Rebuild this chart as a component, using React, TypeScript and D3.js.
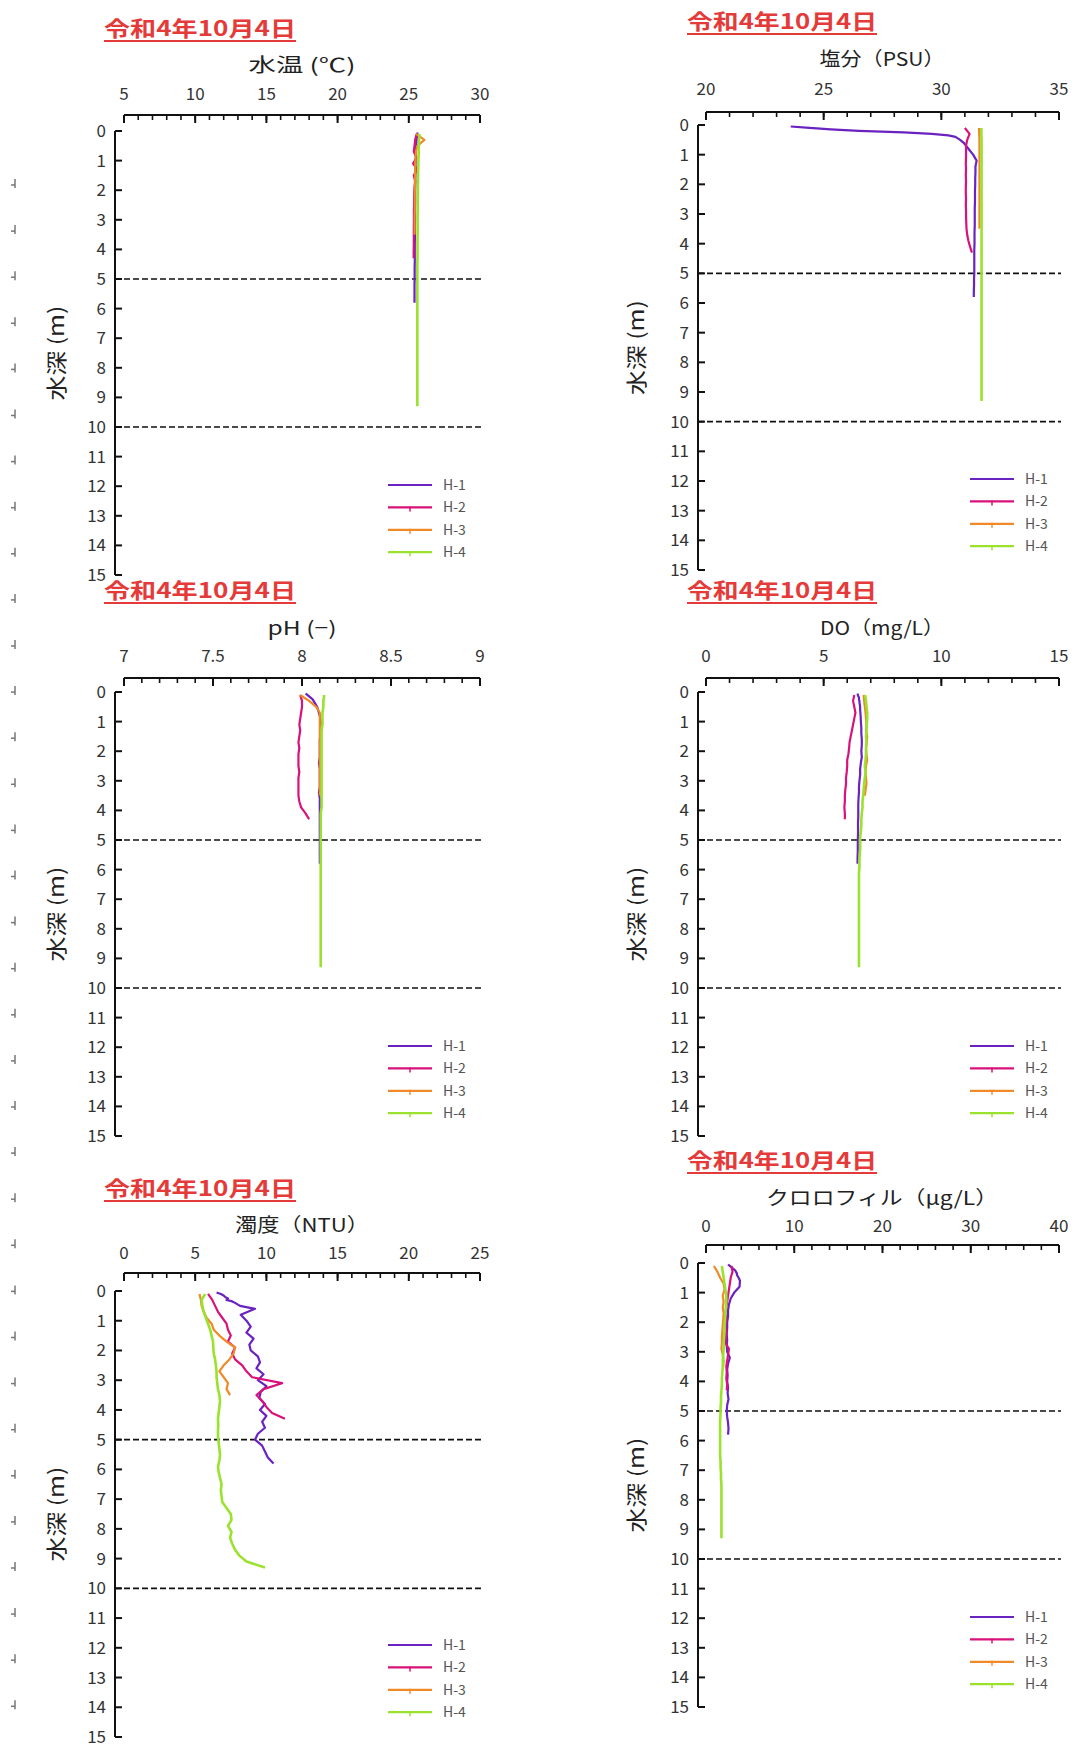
import React from "react";
import * as d3 from "d3";

const STATIONS = ["H-1", "H-2", "H-3", "H-4"];
const COLORS = ["#6a22c0", "#d8127a", "#f08a28", "#9ae22e"];
const DATE_LABEL = "令和4年10月4日";
const DEPTH_TITLE = "水深 (m)";
const DEPTH_TICKS = [0, 1, 2, 3, 4, 5, 6, 7, 8, 9, 10, 11, 12, 13, 14, 15];
const GUIDE_DEPTHS = [5, 10];

// depth grids (m) of each station's profile
const DEPTH_H1 = [0.05, 0.1, 0.15, 0.2, 0.25, 0.3, 0.35, 0.4, 0.5, 0.6, 0.8, 1.0, 1.2, 1.4, 1.6, 1.8, 2.0, 2.2, 2.4, 2.6, 2.8, 3.0, 3.2, 3.4, 3.6, 3.8, 4.0, 4.2, 4.4, 4.6, 4.8, 5.0, 5.2, 5.4, 5.6, 5.8];
const DEPTH_H2 = [0.1, 0.3, 0.5, 0.7, 0.9, 1.1, 1.3, 1.5, 1.7, 1.9, 2.1, 2.3, 2.5, 2.7, 2.9, 3.1, 3.3, 3.5, 3.7, 3.9, 4.1, 4.3];
const DEPTH_H3 = [0.1, 0.3, 0.5, 0.7, 0.9, 1.1, 1.3, 1.5, 1.7, 1.9, 2.1, 2.3, 2.5, 2.7, 2.9, 3.1, 3.3, 3.5];
const DEPTH_H4 = [0.1, 0.3, 0.5, 0.7, 0.9, 1.1, 1.3, 1.5, 1.7, 1.9, 2.1, 2.3, 2.5, 2.7, 2.9, 3.1, 3.3, 3.5, 3.7, 3.9, 4.1, 4.3, 4.5, 4.7, 4.9, 5.1, 5.3, 5.5, 5.7, 5.9, 6.1, 6.3, 6.5, 6.7, 6.9, 7.1, 7.3, 7.5, 7.7, 7.9, 8.1, 8.3, 8.5, 8.7, 8.9, 9.1, 9.3];

// 水温 (℃)
const TEMP_H1 = [25.6, 25.6, 25.58, 25.57, 25.55, 25.55, 25.54, 25.53, 25.52, 25.5, 25.5, 25.48, 25.47, 25.47, 25.46, 25.46, 25.45, 25.45, 25.45, 25.44, 25.44, 25.44, 25.43, 25.43, 25.43, 25.42, 25.42, 25.42, 25.42, 25.41, 25.41, 25.41, 25.4, 25.4, 25.4, 25.4];
const TEMP_H2 = [25.55, 25.45, 25.4, 25.35, 25.55, 25.3, 25.6, 25.35, 25.45, 25.4, 25.38, 25.37, 25.37, 25.36, 25.36, 25.36, 25.35, 25.35, 25.35, 25.35, 25.34, 25.34];
const TEMP_H3 = [25.5, 26.1, 25.6, 25.5, 25.48, 25.45, 25.45, 25.44, 25.43, 25.43, 25.42, 25.42, 25.42, 25.42, 25.41, 25.41, 25.41, 25.4];
const TEMP_H4 = [25.75, 25.72, 25.7, 25.7, 25.68, 25.67, 25.66, 25.65, 25.65, 25.64, 25.64, 25.63, 25.63, 25.63, 25.62, 25.62, 25.62, 25.62, 25.61, 25.61, 25.61, 25.61, 25.6, 25.6, 25.6, 25.6, 25.6, 25.6, 25.6, 25.6, 25.6, 25.6, 25.6, 25.6, 25.6, 25.6, 25.6, 25.6, 25.6, 25.6, 25.6, 25.6, 25.6, 25.6, 25.6, 25.6, 25.6];

// 塩分 (PSU)
const SAL_H1 = [23.6, 24.4, 25.3, 26.5, 28.4, 29.6, 30.3, 30.6, 30.8, 30.95, 31.15, 31.35, 31.5, 31.45, 31.45, 31.44, 31.44, 31.43, 31.43, 31.43, 31.42, 31.42, 31.42, 31.42, 31.41, 31.41, 31.41, 31.4, 31.4, 31.4, 31.4, 31.4, 31.39, 31.39, 31.38, 31.38];
const SAL_H2 = [31.0, 31.2, 31.1, 31.05, 31.05, 31.05, 31.04, 31.05, 31.04, 31.05, 31.04, 31.04, 31.05, 31.04, 31.05, 31.05, 31.06, 31.07, 31.1, 31.15, 31.22, 31.3];
const SAL_H3 = [31.6, 31.61, 31.62, 31.62, 31.62, 31.62, 31.62, 31.62, 31.62, 31.62, 31.62, 31.62, 31.62, 31.62, 31.62, 31.62, 31.62, 31.62];
const SAL_H4 = [31.7, 31.7, 31.71, 31.71, 31.71, 31.71, 31.71, 31.71, 31.71, 31.71, 31.71, 31.71, 31.71, 31.71, 31.71, 31.71, 31.71, 31.71, 31.71, 31.71, 31.71, 31.71, 31.71, 31.71, 31.71, 31.71, 31.71, 31.71, 31.71, 31.71, 31.71, 31.71, 31.71, 31.71, 31.71, 31.71, 31.71, 31.71, 31.71, 31.71, 31.71, 31.71, 31.71, 31.71, 31.71, 31.71, 31.71];

// pH (-)
const PH_H1 = [8.02, 8.03, 8.04, 8.05, 8.06, 8.065, 8.07, 8.075, 8.085, 8.09, 8.1, 8.105, 8.11, 8.105, 8.1, 8.1, 8.1, 8.1, 8.095, 8.1, 8.1, 8.1, 8.1, 8.095, 8.1, 8.1, 8.1, 8.1, 8.1, 8.1, 8.1, 8.1, 8.1, 8.1, 8.1, 8.1];
const PH_H2 = [7.99, 8.0, 8.0, 7.995, 7.99, 7.985, 7.99, 7.985, 7.98, 7.985, 7.98, 7.98, 7.98, 7.985, 7.98, 7.98, 7.98, 7.98, 7.985, 7.995, 8.02, 8.04];
const PH_H3 = [7.99, 8.04, 8.08, 8.1, 8.1, 8.1, 8.1, 8.1, 8.1, 8.1, 8.1, 8.1, 8.1, 8.1, 8.1, 8.1, 8.1, 8.1];
const PH_H4 = [8.125, 8.12, 8.12, 8.115, 8.115, 8.115, 8.11, 8.11, 8.11, 8.11, 8.11, 8.11, 8.11, 8.11, 8.11, 8.11, 8.11, 8.11, 8.11, 8.11, 8.105, 8.105, 8.105, 8.105, 8.105, 8.105, 8.105, 8.105, 8.105, 8.105, 8.105, 8.105, 8.105, 8.105, 8.105, 8.105, 8.105, 8.105, 8.105, 8.105, 8.105, 8.105, 8.105, 8.105, 8.105, 8.105, 8.105];

// DO (mg/L)
const DO_H1 = [6.45, 6.45, 6.48, 6.5, 6.5, 6.52, 6.52, 6.53, 6.55, 6.55, 6.57, 6.58, 6.6, 6.6, 6.62, 6.62, 6.6, 6.62, 6.58, 6.55, 6.55, 6.52, 6.5, 6.5, 6.48, 6.47, 6.47, 6.47, 6.46, 6.46, 6.46, 6.45, 6.45, 6.45, 6.44, 6.44];
const DO_H2 = [6.3, 6.25, 6.3, 6.35, 6.3, 6.25, 6.2, 6.15, 6.1, 6.08, 6.05, 6.0, 6.0, 5.98, 5.95, 5.95, 5.92, 5.9, 5.9, 5.88, 5.9, 5.9];
const DO_H3 = [6.7, 6.72, 6.75, 6.78, 6.8, 6.82, 6.8, 6.85, 6.83, 6.8, 6.82, 6.85, 6.8, 6.78, 6.8, 6.82, 6.78, 6.75];
const DO_H4 = [6.76, 6.8, 6.82, 6.85, 6.85, 6.83, 6.82, 6.8, 6.82, 6.8, 6.8, 6.78, 6.75, 6.78, 6.75, 6.72, 6.7, 6.68, 6.65, 6.65, 6.62, 6.6, 6.6, 6.58, 6.55, 6.55, 6.55, 6.53, 6.52, 6.52, 6.5, 6.5, 6.5, 6.5, 6.5, 6.5, 6.5, 6.5, 6.5, 6.5, 6.5, 6.5, 6.5, 6.5, 6.5, 6.5, 6.5];

// 濁度 (NTU)
const TURB_H1 = [6.5, 6.8, 7.0, 7.1, 7.3, 7.2, 7.6, 7.8, 8.15, 9.2, 8.2, 8.6, 8.9, 8.6, 9.1, 8.8, 8.9, 9.4, 9.55, 9.3, 9.8, 9.4, 10.0, 9.6, 9.5, 9.9, 9.55, 10.0, 9.7, 9.9, 9.4, 9.2, 9.7, 9.9, 10.1, 10.5];
const TURB_H2 = [5.9, 6.2, 6.4, 6.6, 6.9, 7.2, 7.3, 7.5, 7.3, 7.8, 7.6, 7.8, 8.3, 8.6, 9.0, 11.1, 9.8, 9.3, 9.7, 10.0, 10.4, 11.3];
const TURB_H3 = [5.3, 5.4, 5.45, 5.6, 5.8, 6.15, 6.3, 6.7, 7.2, 7.8, 7.7, 7.4, 7.0, 6.7, 7.0, 7.3, 7.2, 7.45];
const TURB_H4 = [5.7, 5.45, 5.5, 5.6, 5.75, 5.9, 6.05, 6.15, 6.25, 6.27, 6.3, 6.4, 6.45, 6.5, 6.5, 6.55, 6.6, 6.7, 6.74, 6.7, 6.65, 6.6, 6.62, 6.6, 6.6, 6.65, 6.7, 6.74, 6.7, 6.6, 6.65, 6.75, 6.85, 6.8, 6.85, 6.9, 7.2, 7.5, 7.55, 7.3, 7.55, 7.45, 7.6, 7.8, 8.1, 8.6, 9.9];

// クロロフィル (μg/L)
const CHL_H1 = [2.5, 2.7, 2.9, 3.1, 3.3, 3.4, 3.5, 3.5, 3.7, 3.85, 3.8, 3.2, 2.8, 2.6, 2.5, 2.5, 2.4, 2.4, 2.35, 2.4, 2.35, 2.4, 2.7, 2.5, 2.4, 2.45, 2.4, 2.5, 2.45, 2.55, 2.4, 2.35, 2.4, 2.5, 2.55, 2.5];
const CHL_H2 = [2.9, 3.0, 2.8, 2.7, 2.6, 2.5, 2.4, 2.3, 2.2, 2.3, 2.2, 2.3, 2.25, 2.2, 2.6, 2.5, 2.4, 2.3, 2.35, 2.3, 2.4, 2.35];
const CHL_H3 = [0.9, 1.3, 1.6, 2.0, 2.1, 1.9, 2.0, 1.9, 2.0, 1.95, 1.9, 1.85, 1.8, 1.8, 1.75, 1.9, 2.0, 1.95];
const CHL_H4 = [1.8, 1.9, 2.0, 2.1, 2.2, 2.3, 2.3, 2.25, 2.2, 2.15, 2.1, 2.1, 2.05, 2.0, 2.0, 1.95, 1.9, 1.9, 1.85, 1.8, 1.8, 1.75, 1.7, 1.7, 1.65, 1.65, 1.6, 1.6, 1.6, 1.6, 1.6, 1.6, 1.6, 1.65, 1.65, 1.7, 1.7, 1.75, 1.75, 1.75, 1.75, 1.75, 1.75, 1.75, 1.75, 1.75, 1.75];

const TEMP_TICKS = ["5", "10", "15", "20", "25", "30"];
const SAL_TICKS = ["20", "25", "30", "35"];
const PH_TICKS = ["7", "7.5", "8", "8.5", "9"];
const DO_TICKS = ["0", "5", "10", "15"];
const TURB_TICKS = ["0", "5", "10", "15", "20", "25"];
const CHL_TICKS = ["0", "10", "20", "30", "40"];

const DEPTHS = [DEPTH_H1, DEPTH_H2, DEPTH_H3, DEPTH_H4];

const PARAMS = [
  { title: "水温 (℃)", ticks: TEMP_TICKS, minor: 1, series: [TEMP_H1, TEMP_H2, TEMP_H3, TEMP_H4] },
  { title: "塩分（PSU）", ticks: SAL_TICKS, minor: 1, series: [SAL_H1, SAL_H2, SAL_H3, SAL_H4] },
  { title: "pH (−)", ticks: PH_TICKS, minor: 0.1, series: [PH_H1, PH_H2, PH_H3, PH_H4] },
  { title: "DO（mg/L）", ticks: DO_TICKS, minor: 1, series: [DO_H1, DO_H2, DO_H3, DO_H4] },
  { title: "濁度（NTU）", ticks: TURB_TICKS, minor: 1, series: [TURB_H1, TURB_H2, TURB_H3, TURB_H4] },
  { title: "クロロフィル（μg/L）", ticks: CHL_TICKS, minor: 2, series: [CHL_H1, CHL_H2, CHL_H3, CHL_H4] },
];

// layout (pixels)
const COLS = [
  { x0: 124, x1: 480, axisX: 115, dashEnd: 483, titleX: 104, titleW: 192, axisTitleX: 302, yTitleX: 64, legX: 388 },
  { x0: 706, x1: 1059, axisX: 698, dashEnd: 1061, titleX: 687, titleW: 190, axisTitleX: 882, yTitleX: 644, legX: 970 },
];
const ROWS = [
  { under: 41, axisTitle: 72, tickLab: 100, topAxis: 115, y0: 131, y15: 575 },
  { under: 34, axisTitle: 66, tickLab: 95, topAxis: 112, y0: 125, y15: 570 },
  { under: 603, axisTitle: 635, tickLab: 662, topAxis: 678, y0: 692, y15: 1136 },
  { under: 603, axisTitle: 635, tickLab: 662, topAxis: 678, y0: 692, y15: 1136 },
  { under: 1201, axisTitle: 1232, tickLab: 1259, topAxis: 1273, y0: 1291, y15: 1737 },
  { under: 1173, axisTitle: 1205, tickLab: 1232, topAxis: 1245, y0: 1263, y15: 1707 },
];
const TITLE_W = [107, 125, 69, 124, 134, 232];

const FONT = "'Noto Sans CJK JP', 'Noto Sans', sans-serif";

function Panel({ idx }: { idx: number }) {
  const p = PARAMS[idx];
  const col = COLS[idx % 2];
  const row = ROWS[idx];
  const tickVals = p.ticks.map(Number);
  const dom: [number, number] = [tickVals[0], tickVals[tickVals.length - 1]];
  const x = d3.scaleLinear().domain(dom).range([col.x0, col.x1]);
  const y = d3.scaleLinear().domain([0, 15]).range([row.y0, row.y15]);
  const minorTicks = d3.range(dom[0], dom[1] + p.minor / 2, p.minor);
  const line = d3
    .line<[number, number]>()
    .x((d) => x(d[0]))
    .y((d) => y(d[1]));

  return (
    <g>
      {/* date title */}
      <text
        x={col.titleX}
        y={row.under - 5}
        fontSize={21}
        fontWeight={700}
        fill="#e43a3a"
        fontFamily={FONT}
        textLength={col.titleW}
        lengthAdjust="spacingAndGlyphs"
      >
        {DATE_LABEL}
      </text>
      <line x1={col.titleX} x2={col.titleX + col.titleW} y1={row.under} y2={row.under} stroke="#e43a3a" strokeWidth={2} />

      {/* axis title */}
      <text
        x={col.axisTitleX}
        y={row.axisTitle}
        fontSize={19}
        textAnchor="middle"
        fill="#222"
        fontFamily={FONT}
        textLength={TITLE_W[idx]}
        lengthAdjust="spacingAndGlyphs"
      >
        {p.title}
      </text>

      {/* top axis */}
      {p.ticks.map((t, i) => (
        <text key={"tl" + i} x={x(tickVals[i])} y={row.tickLab} fontSize={17} textAnchor="middle" fill="#333" fontFamily={FONT}>
          {t}
        </text>
      ))}
      <line x1={x(dom[0])} x2={x(dom[1])} y1={row.topAxis} y2={row.topAxis} stroke="#111" strokeWidth={2} />
      {minorTicks.map((t, i) => (
        <line key={"mt" + i} x1={x(t)} x2={x(t)} y1={row.topAxis} y2={row.topAxis + 5} stroke="#111" strokeWidth={1.6} />
      ))}
      {tickVals.map((t, i) => (
        <line key={"Mt" + i} x1={x(t)} x2={x(t)} y1={row.topAxis} y2={row.topAxis + 8} stroke="#111" strokeWidth={2} />
      ))}

      {/* left depth axis */}
      <line x1={col.axisX} x2={col.axisX} y1={y(0)} y2={y(15)} stroke="#111" strokeWidth={2} />
      {DEPTH_TICKS.map((d) => (
        <g key={"d" + d}>
          <line x1={col.axisX} x2={col.axisX + 7} y1={y(d)} y2={y(d)} stroke="#111" strokeWidth={2} />
          <text x={col.axisX - 9} y={y(d) + 6} fontSize={17} textAnchor="end" fill="#333" fontFamily={FONT}>
            {d}
          </text>
        </g>
      ))}
      <text
        transform={`translate(${col.yTitleX},${y(7.5)}) rotate(-90)`}
        fontSize={21}
        textAnchor="middle"
        fill="#222"
        fontFamily={FONT}
        textLength={95}
        lengthAdjust="spacingAndGlyphs"
      >
        {DEPTH_TITLE}
      </text>

      {/* guide lines */}
      {GUIDE_DEPTHS.map((d) => (
        <line key={"g" + d} x1={col.axisX} x2={col.dashEnd} y1={y(d)} y2={y(d)} stroke="#111" strokeWidth={1.6} strokeDasharray="6,3" />
      ))}

      {/* profiles */}
      {p.series.map((vals, si) => (
        <path
          key={"s" + si}
          d={line(vals.map((v, k) => [v, DEPTHS[si][k]] as [number, number])) || ""}
          fill="none"
          stroke={COLORS[si]}
          strokeWidth={si === 3 ? 2.6 : 2.2}
          strokeLinejoin="round"
        />
      ))}

      {/* legend */}
      {STATIONS.map((s, si) => {
        const ly = y(0) + 354 + si * 22.4;
        return (
          <g key={"lg" + si}>
            <line x1={col.legX} x2={col.legX + 44} y1={ly} y2={ly} stroke={COLORS[si]} strokeWidth={2.2} />
            {si > 0 && <line x1={col.legX + 22} x2={col.legX + 22} y1={ly - 1} y2={ly + 4} stroke={COLORS[si]} strokeWidth={1.5} />}
            <text x={col.legX + 55} y={ly + 5} fontSize={14} fill="#555" fontFamily={FONT}>
              {s}
            </text>
          </g>
        );
      })}
    </g>
  );
}

export default function App() {
  const edgeMarks = d3.range(0, 34).map((i) => 184 + i * 46.1);
  return (
    <svg width={1077} height={1751} style={{ display: "block", position: "absolute", left: 0, top: 0, background: "#fff" }}>
      <rect x={0} y={0} width={1077} height={1751} fill="#fff" />
      {edgeMarks.map((my, i) => (
        <g key={"em" + i} stroke="#777" strokeWidth={1.5}>
          <line x1={15} x2={15} y1={my - 5} y2={my + 4} />
          <line x1={11} x2={15} y1={my + 1} y2={my + 1} />
        </g>
      ))}
      {PARAMS.map((_, i) => (
        <Panel key={i} idx={i} />
      ))}
    </svg>
  );
}
